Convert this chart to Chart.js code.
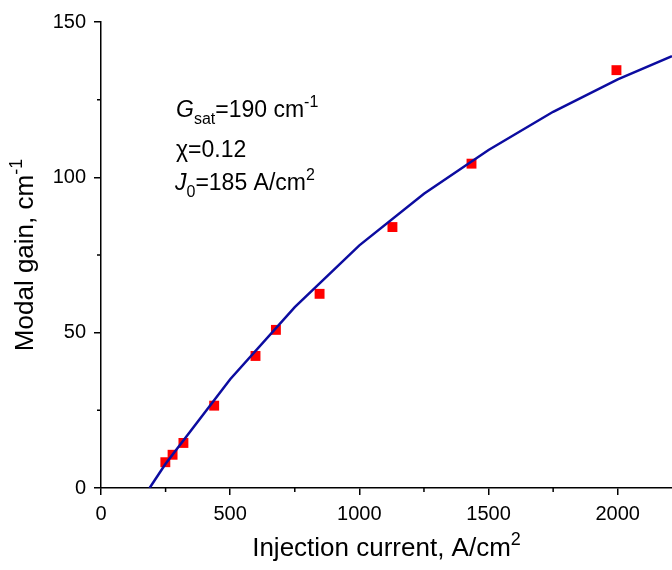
<!DOCTYPE html>
<html>
<head>
<meta charset="utf-8">
<script src="https://cdn.jsdelivr.net/npm/chart.js@4/dist/chart.umd.min.js"></script>
<style>
  html, body { margin: 0; padding: 0; background: #fff; }
  #wrap { width: 672px; height: 570px; }
</style>
</head>
<body>
<div id="wrap"><canvas id="gainChart" width="672" height="570"></canvas></div>
<script>
// measured points (red squares)
const measCurrent = [249, 277, 319, 438, 598, 677, 846, 1128, 1434, 1995];
const measGain = [8.3, 10.7, 14.5, 26.5, 42.5, 50.9, 62.5, 84.0, 104.4, 134.5];

// fit curve
const fitCurrent = [188, 250, 500, 750, 1000, 1250, 1500, 1750, 2000, 2210];
const fitGain = [0, 7.8, 35.0, 58.2, 78.1, 94.7, 108.8, 121.1, 131.5, 139.0];

const xTicks = [0, 500, 1000, 1500, 2000];
const yTicks = [0, 50, 100, 150];
const xMinor = [250, 750, 1250, 1750];
const yMinor = [25, 75, 125];

const FONT = '"Liberation Sans", Arial, sans-serif';

// draws text pieces one after another: {t, sub, sup, it}
function drawRich(ctx, parts, x, y, size) {
    let cx = x;
    parts.forEach(p => {
        const small = p.sub || p.sup;
        const fs = small ? Math.round(size * 0.68) : size;
        ctx.font = (p.it ? 'italic ' : '') + fs + 'px ' + FONT;
        let dy = 0;
        if (p.sub) dy = size * 0.3;
        if (p.sup) dy = -size * 0.42;
        ctx.fillText(p.t, cx, y + dy);
        cx += ctx.measureText(p.t).width;
    });
    return cx - x;
}

function richWidth(ctx, parts, size) {
    let w = 0;
    parts.forEach(p => {
        const fs = (p.sub || p.sup) ? Math.round(size * 0.68) : size;
        ctx.font = (p.it ? 'italic ' : '') + fs + 'px ' + FONT;
        w += ctx.measureText(p.t).width;
    });
    return w;
}

const extrasPlugin = {
    id: 'extras',
    afterDraw(chart) {
        const ctx = chart.ctx;
        const xs = chart.scales.x, ys = chart.scales.y;
        const area = chart.chartArea;
        ctx.save();
        // minor ticks
        ctx.strokeStyle = '#000';
        ctx.lineWidth = 1.5;
        ctx.beginPath();
        xMinor.forEach(v => {
            const px = xs.getPixelForValue(v);
            ctx.moveTo(px, area.bottom);
            ctx.lineTo(px, area.bottom + 4);
        });
        yMinor.forEach(v => {
            const py = ys.getPixelForValue(v);
            ctx.moveTo(area.left, py);
            ctx.lineTo(area.left - 4, py);
        });
        ctx.stroke();

        ctx.fillStyle = '#000';
        ctx.textBaseline = 'alphabetic';
        ctx.textAlign = 'left';

        // x title
        const xt = [{t: 'Injection current, A/cm'}, {t: '2', sup: true}];
        const xw = richWidth(ctx, xt, 26);
        drawRich(ctx, xt, (area.left + area.right) / 2 - xw / 2, 556, 26);

        // y title
        const yt = [{t: 'Modal gain, cm'}, {t: '-1', sup: true}];
        const yw = richWidth(ctx, yt, 26);
        ctx.save();
        ctx.translate(33, (area.top + area.bottom) / 2);
        ctx.rotate(-Math.PI / 2);
        drawRich(ctx, yt, -yw / 2, 0, 26);
        ctx.restore();

        // annotation
        drawRich(ctx, [{t: 'G', it: true}, {t: 'sat', sub: true}, {t: '=190 cm'}, {t: '-1', sup: true}], 176, 117, 23);
        drawRich(ctx, [{t: '\u03c7=0.12'}], 176, 157, 23);
        drawRich(ctx, [{t: 'J', it: true}, {t: '0', sub: true}, {t: '=185 A/cm'}, {t: '2', sup: true}], 175, 190, 23);
        ctx.restore();
    }
};

const ctx = document.getElementById('gainChart').getContext('2d');
new Chart(ctx, {
    type: 'scatter',
    data: {
        datasets: [
            {
                type: 'line',
                label: 'Fit',
                data: fitCurrent.map((x, i) => ({x: x, y: fitGain[i]})),
                borderColor: '#0c0ca0',
                borderWidth: 2.5,
                pointRadius: 0,
                tension: 0,
                fill: false,
                order: 0
            },
            {
                label: 'Measured',
                data: measCurrent.map((x, i) => ({x: x, y: measGain[i]})),
                backgroundColor: '#ff0000',
                borderWidth: 0,
                pointStyle: 'rect',
                pointRadius: 7,
                order: 1
            }
        ]
    },
    options: {
        responsive: false,
        animation: false,
        layout: { autoPadding: false, padding: { top: 22, right: 0, left: 0, bottom: 0 } },
        plugins: {
            legend: { display: false },
            tooltip: { enabled: false }
        },
        scales: {
            x: {
                type: 'linear',
                min: 0,
                max: 2210,
                afterBuildTicks: (scale) => {
                    scale.ticks = xTicks.map(v => ({value: v}));
                },
                afterFit: (scale) => {
                    scale.height = 82;
                    scale.paddingLeft = 0;
                    scale.paddingRight = 0;
                },
                grid: { drawOnChartArea: false, color: '#000', lineWidth: 1.5, tickLength: 7 },
                border: { color: '#000', width: 1.5 },
                ticks: {
                    color: '#000',
                    padding: 7,
                    maxRotation: 0,
                    font: { family: FONT, size: 20 },
                    callback: (v) => String(v)
                }
            },
            y: {
                min: 0,
                max: 150,
                afterBuildTicks: (scale) => {
                    scale.ticks = yTicks.map(v => ({value: v}));
                },
                afterFit: (scale) => { scale.width = 101; },
                grid: { drawOnChartArea: false, color: '#000', lineWidth: 1.5, tickLength: 7 },
                border: { color: '#000', width: 1.5 },
                ticks: {
                    color: '#000',
                    padding: 8,
                    font: { family: FONT, size: 20 },
                    callback: (v) => String(v)
                }
            }
        }
    },
    plugins: [extrasPlugin]
});
</script>
</body>
</html>
